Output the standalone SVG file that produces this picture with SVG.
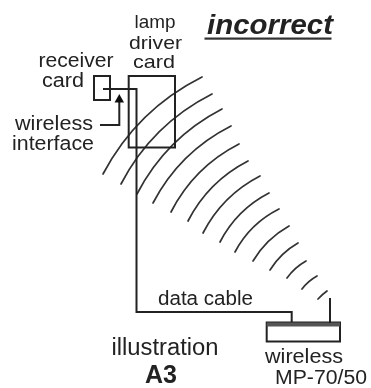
<svg xmlns="http://www.w3.org/2000/svg" width="371" height="388" viewBox="0 0 371 388">
<defs><filter id="soft" x="-2%" y="-2%" width="104%" height="104%"><feGaussianBlur stdDeviation="0.45"/></filter></defs>
<style>
text{font-family:"Liberation Sans",Arial,sans-serif;font-size:20px;fill:#222}
.stack{font-size:19px}
.box{fill:none;stroke:#222;stroke-width:2}
.line{fill:none;stroke:#222;stroke-width:2}
.arc{fill:none;stroke:#333;stroke-width:1.7;stroke-linecap:round}
</style>
<rect width="371" height="388" fill="#fff"/>
<g filter="url(#soft)">
<g id="title"><text x="207" y="33.5" font-weight="bold" font-style="italic" style="font-size:27px" textLength="126" lengthAdjust="spacingAndGlyphs">incorrect</text><rect x="204.5" y="37.5" width="127" height="2.2" fill="#333"/></g>
<g id="waves">
<path class="arc" d="M103 174Q137 109.7 202 77"/>
<path class="arc" d="M121 184Q152 124.4 212 94"/>
<path class="arc" d="M137 194Q166 138 222 109"/>
<path class="arc" d="M153 203Q179.7 152 231 126"/>
<path class="arc" d="M171 212Q194 167 239 144"/>
<path class="arc" d="M188 221Q208.4 181.4 248 161"/>
<path class="arc" d="M203 233Q222.4 195.4 260 176"/>
<path class="arc" d="M220 242Q236.7 209.7 269 193"/>
<path class="arc" d="M235 252Q250 223.5 279 209"/>
<path class="arc" d="M253 261Q266 239 289 226"/>
<path class="arc" d="M270 270Q280.5 253 298 243"/>
<path class="arc" d="M287 278Q294.5 267.5 306 261"/>
<path class="arc" d="M302 289Q308 281 317 276"/>
<path class="arc" d="M318 299Q322 294.5 327 291"/>
</g>
<g id="lamp-driver-card"><rect class="box" x="128.7" y="76" width="46.3" height="71.5"/><text class="stack" x="134.5" y="28" textLength="41" lengthAdjust="spacingAndGlyphs">lamp</text><text class="stack" x="129" y="48.5" textLength="53" lengthAdjust="spacingAndGlyphs">driver</text><text class="stack" x="133" y="68" textLength="42" lengthAdjust="spacingAndGlyphs">card</text></g>
<g id="receiver-card"><rect class="box" x="94" y="76" width="16" height="24"/><text x="38.5" y="67" textLength="75" lengthAdjust="spacingAndGlyphs">receiver</text><text x="42" y="87" textLength="42" lengthAdjust="spacingAndGlyphs">card</text></g>
<g id="wireless-interface"><text x="15" y="130" textLength="78" lengthAdjust="spacingAndGlyphs">wireless</text><text x="12" y="150" textLength="82" lengthAdjust="spacingAndGlyphs">interface</text></g>
<g id="wireless-device"><rect class="box" x="266.7" y="322.5" width="73.3" height="19"/><rect x="266.7" y="322.5" width="73.3" height="4" fill="#555"/><text x="265" y="362.7" textLength="78" lengthAdjust="spacingAndGlyphs">wireless</text><text x="275" y="384" textLength="92" lengthAdjust="spacingAndGlyphs">MP-70/50</text></g>
<g id="connectors">
<path class="line" d="M103 89H136.5V312H291.7V322"/>
<path class="line" d="M330 298V323"/>
<path class="line" d="M100 125H119.3V102"/>
<polygon points="119.3,94 114.5,102.5 124,102.5" fill="#111"/>
</g>
<g id="labels"><text x="158" y="305" textLength="95" lengthAdjust="spacingAndGlyphs">data cable</text><text x="111.5" y="355" textLength="107" lengthAdjust="spacingAndGlyphs" style="font-size:23px">illustration</text><text x="145" y="383" font-weight="bold" style="font-size:25px" textLength="32" lengthAdjust="spacingAndGlyphs">A3</text></g>
</g>
</svg>
